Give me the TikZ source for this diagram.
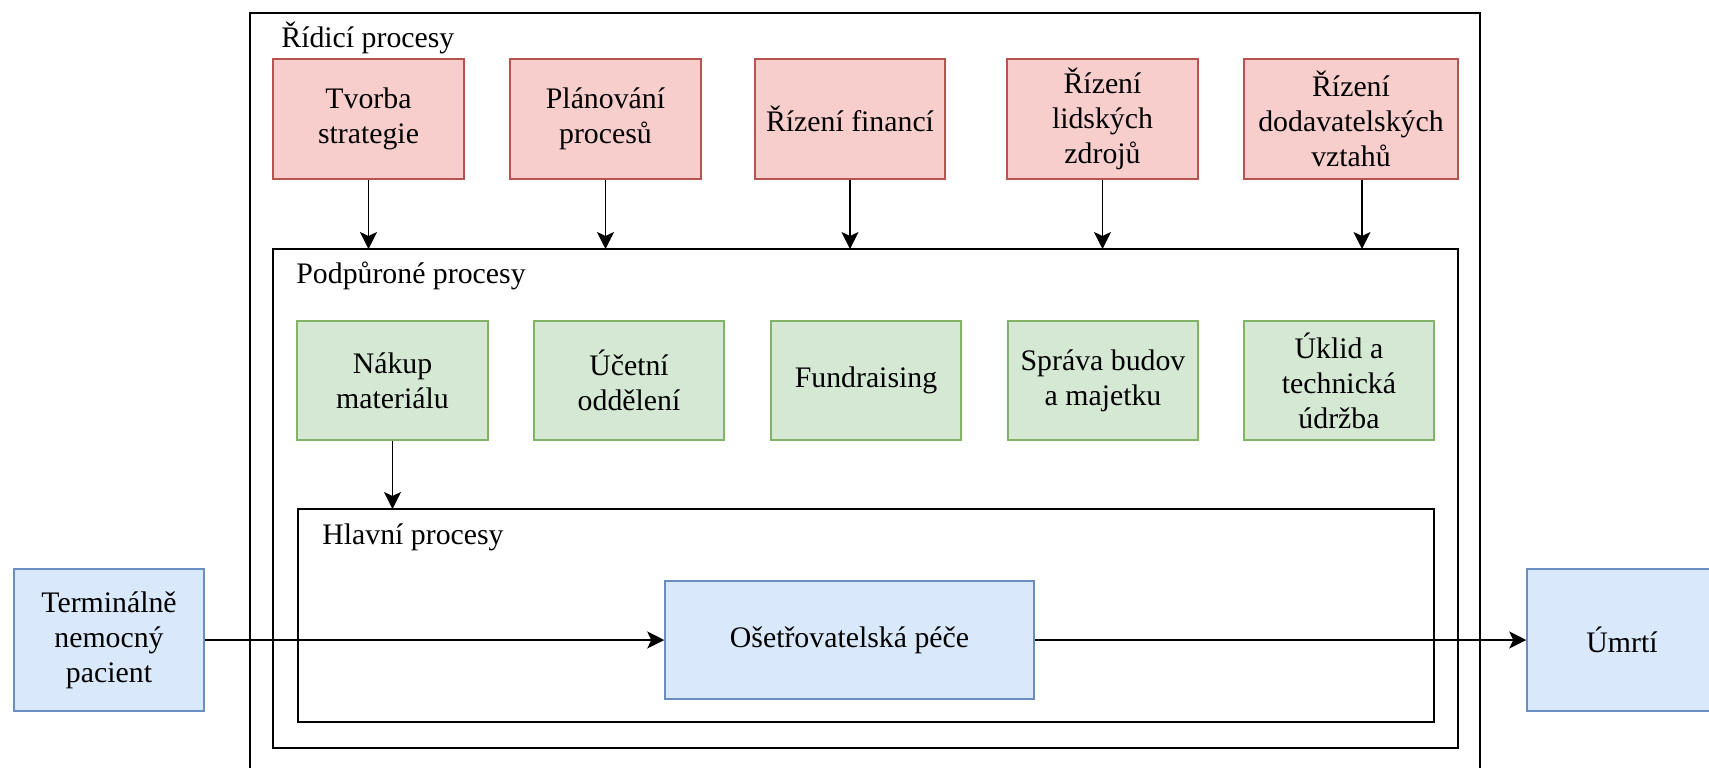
\documentclass[tikz,border=0pt]{standalone}
\usepackage{fontspec}
\setmainfont{Liberation Serif}
\usetikzlibrary{arrows.meta,calc}
\definecolor{redfill}{HTML}{F8CECC}
\definecolor{redline}{HTML}{B85450}
\definecolor{greenfill}{HTML}{D5E8D4}
\definecolor{greenline}{HTML}{82B366}
\definecolor{bluefill}{HTML}{DAE8FC}
\definecolor{blueline}{HTML}{6C8EBF}
\tikzset{
  txt/.style={font=\fontsize{14.9}{17.5}\selectfont, align=center, inner sep=0pt},
  redbox/.style={txt, draw=redline, fill=redfill, line width=0.75pt, minimum height=60pt},
  greenbox/.style={txt, draw=greenline, fill=greenfill, line width=0.75pt, minimum height=59.5pt, minimum width=95pt},
  bluebox/.style={txt, draw=blueline, fill=bluefill, line width=0.75pt},
  container/.style={draw=black, line width=1pt, fill=none},
  lbl/.style={txt, anchor=west},
  arr/.style={draw=black, line width=0.9pt, -{Stealth[length=8.5pt,width=8.5pt,inset=2pt]}}
}
\begin{document}
\begin{tikzpicture}[x=0.5pt,y=-0.5pt]
\useasboundingbox (0,0) rectangle (1709,767);
\clip (0,0) rectangle (1709,767);
% containers
\draw[container] (250,13) rectangle (1480,790);
\node[lbl] (lblridici) at (281,38) {Řídicí procesy};
\draw[container] (273,249) rectangle (1458,748);
\coordinate (podtop) at (865,249);
\node[lbl] (lblpodp) at (296,276) {Podpůroné procesy};
\draw[container] (298,509) rectangle (1434,722);
\coordinate (hlavtop) at (866,509);
\node[lbl] (lblhlav) at (322,537) {Hlavní procesy};
% red boxes
\node[redbox, minimum width=95.5pt] (tvorba) at (368.5,119) {Tvorba\\strategie};
\node[redbox, minimum width=95.5pt] (plan) at (605.5,119) {Plánování\\procesů};
\node[redbox, minimum width=95pt] (fin) at (850,119) {Řízení financí};
\node[redbox, minimum width=95.5pt] (lid) at (1102.5,119) {Řízení\\lidských\\zdrojů};
\node[redbox, minimum width=107pt] (dod) at (1351,119) {Řízení\\dodavatelských\\vztahů};
% green boxes
\node[greenbox, minimum width=95.5pt] (nakup) at (392.5,380.5) {Nákup\\materiálu};
\node[greenbox] (ucet) at (629,380.5) {Účetní\\oddělení};
\node[greenbox] (fund) at (866,380.5) {Fundraising};
\node[greenbox] (sprava) at (1103,380.5) {Správa budov\\a majetku};
\node[greenbox] (uklid) at (1339,380.5) {Úklid a\\technická\\údržba};
% blue boxes
\node[bluebox, minimum width=95pt, minimum height=71pt] (term) at (109,640) {Terminálně\\nemocný\\pacient};
\node[bluebox, minimum width=184.5pt, minimum height=59pt] (oset) at (849.5,640) {Ošetřovatelská péče};
\node[bluebox, minimum width=95pt, minimum height=71pt] (umrti) at (1622,640) {Úmrtí};
% arrows
\draw[arr] (tvorba.south) -- (tvorba.south |- podtop);
\draw[arr] (plan.south) -- (plan.south |- podtop);
\draw[arr] (fin.south) -- (fin.south |- podtop);
\draw[arr] (lid.south) -- (lid.south |- podtop);
\draw[arr] ([xshift=5.5pt]dod.south) -- ([xshift=5.5pt]dod.south |- podtop);
\draw[arr] (nakup.south) -- (nakup.south |- hlavtop);
\draw[arr] (term.east) -- (oset.west);
\draw[arr] (oset.east) -- (umrti.west);
\end{tikzpicture}
\end{document}
